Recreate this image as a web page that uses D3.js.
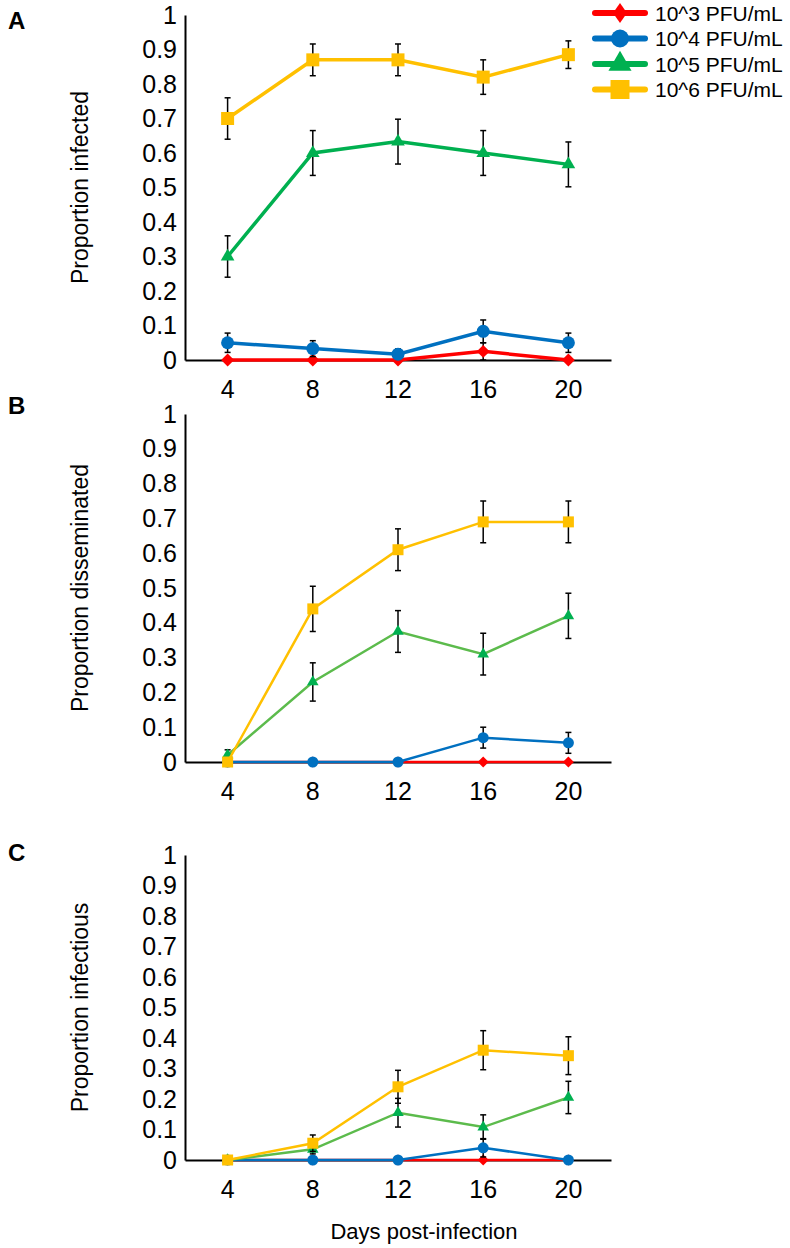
<!DOCTYPE html>
<html>
<head>
<meta charset="utf-8">
<script src="https://cdn.jsdelivr.net/npm/d3@7"></script>
<style>
  body { margin: 0; background: #fff; }
  text { font-family: "Liberation Sans", Arial, sans-serif; fill: #000; }
</style>
</head>
<body>
<div id="chart"></div>
<script>
// categories and ticks
var days   = [4, 8, 12, 16, 20];
var yTicks = [0, 0.1, 0.2, 0.3, 0.4, 0.5, 0.6, 0.7, 0.8, 0.9, 1];
var seriesNames = ["10^3 PFU/mL", "10^4 PFU/mL", "10^5 PFU/mL", "10^6 PFU/mL"];

// A - proportion infected (10^3, 10^4, 10^5, 10^6)
var infected10e3 = [0, 0, 0, 0.025, 0];
var infected10e4 = [0.05, 0.033, 0.017, 0.083, 0.05];
var infected10e5 = [0.30, 0.60, 0.633, 0.60, 0.567];
var infected10e6 = [0.70, 0.87, 0.87, 0.82, 0.885];
var infectedErr10e3 = [0, 0, 0, 0.025, 0];
var infectedErr10e4 = [0.028, 0.023, 0.015, 0.033, 0.028];
var infectedErr10e5 = [0.06, 0.065, 0.065, 0.065, 0.065];
var infectedErr10e6 = [0.06, 0.046, 0.046, 0.05, 0.04];

// B - proportion disseminated
var dissem10e3 = [0, 0, 0, 0, 0];
var dissem10e4 = [0, 0, 0, 0.07, 0.055];
var dissem10e5 = [0.02, 0.23, 0.375, 0.31, 0.42];
var dissem10e6 = [0, 0.44, 0.61, 0.69, 0.69];
var dissemErr10e3 = [0, 0, 0, 0, 0];
var dissemErr10e4 = [0, 0, 0, 0.03, 0.03];
var dissemErr10e5 = [0.015, 0.055, 0.06, 0.06, 0.065];
var dissemErr10e6 = [0, 0.065, 0.06, 0.06, 0.06];

// C - proportion infectious
var infec10e3 = [0, 0, 0, 0, 0];
var infec10e4 = [0, 0, 0, 0.04, 0];
var infec10e5 = [0, 0.035, 0.155, 0.108, 0.205];
var infec10e6 = [0, 0.055, 0.24, 0.36, 0.342];
var infecErr10e3 = [0, 0, 0, 0, 0];
var infecErr10e4 = [0, 0, 0, 0.03, 0];
var infecErr10e5 = [0, 0.015, 0.047, 0.04, 0.053];
var infecErr10e6 = [0, 0.027, 0.054, 0.064, 0.062];

var colors  = ["#FF0000", "#0070C0", "#00B050", "#FFC000"];
var symbols = ["diamond", "circle", "triangle", "square"];

var width = 790, height = 1248;
var left = 185, right = 611;

var panels = [
  {letter: "A", letterY: 20, title: "Proportion infected", top: 15, bottom: 360, big: true,
   vals: [infected10e3, infected10e4, infected10e5, infected10e6],
   errs: [infectedErr10e3, infectedErr10e4, infectedErr10e5, infectedErr10e6],
   greenLine: "#00B050"},
  {letter: "B", letterY: 405, title: "Proportion disseminated", top: 414, bottom: 762, big: false,
   vals: [dissem10e3, dissem10e4, dissem10e5, dissem10e6],
   errs: [dissemErr10e3, dissemErr10e4, dissemErr10e5, dissemErr10e6],
   greenLine: "#5CBB4C"},
  {letter: "C", letterY: 852, title: "Proportion infectious", top: 855, bottom: 1160, big: false,
   vals: [infec10e3, infec10e4, infec10e5, infec10e6],
   errs: [infecErr10e3, infecErr10e4, infecErr10e5, infecErr10e6],
   greenLine: "#5CBB4C"}
];

var svg = d3.select("#chart").append("svg")
      .attr("width", width)
      .attr("height", height);

var x = d3.scaleBand().domain(days).range([left, right]);

function markerPath(kind, s) {
  if (kind == "diamond") return d3.symbol().type(d3.symbolSquare).size(s * s * 0.5)();
  if (kind == "circle") return d3.symbol().type(d3.symbolCircle).size(Math.PI * s * s / 4)();
  if (kind == "triangle") return d3.symbol().type(d3.symbolTriangle).size(0.433 * s * s * 1.1)();
  return d3.symbol().type(d3.symbolSquare).size(s * s)();
}

// legend diamond is taller than wide
function tallDiamond(w, h) {
  return "M0," + (-h / 2) + "L" + (w / 2) + ",0L0," + (h / 2) + "L" + (-w / 2) + ",0Z";
}

panels.forEach(function (p) {
  var y = d3.scaleLinear().domain([0, 1]).range([p.bottom, p.top]);
  var g = svg.append("g");

  // y axis
  var ya = g.append("g")
      .attr("transform", "translate(" + left + ",0)")
      .call(d3.axisLeft(y).tickValues(yTicks).tickSize(0).tickPadding(8)
            .tickFormat(function (d) { return d3.format("")(+d.toFixed(1)); }));
  ya.select(".domain").attr("stroke", "#000").attr("stroke-width", 2);
  ya.selectAll("text").style("font-size", "25px").attr("font-family", null);

  // x axis
  var xa = g.append("g")
      .attr("transform", "translate(0," + p.bottom + ")")
      .call(d3.axisBottom(x).tickSize(0).tickPadding(20));
  xa.select(".domain").attr("stroke", "#000").attr("stroke-width", 2);
  xa.selectAll("text").style("font-size", "25px").attr("font-family", null);

  // panel letter + y title
  g.append("text").attr("x", 8).attr("y", p.letterY + 8.5)
      .style("font-size", "24px").style("font-weight", "bold").text(p.letter);
  g.append("text")
      .attr("transform", "translate(88," + ((p.top + p.bottom) / 2) + ") rotate(-90)")
      .attr("text-anchor", "middle")
      .style("font-size", "23px").text(p.title);

  var ms = p.big ? 13 : 11;
  var lw = p.big ? 3.5 : 2.5;

  p.vals.forEach(function (vals, si) {
    var pts = days.map(function (d, i) { return {d: d, v: vals[i], e: p.errs[si][i]}; });
    var line = d3.line()
        .x(function (q) { return x(q.d) + x.bandwidth() / 2; })
        .y(function (q) { return y(q.v); });
    g.append("path").datum(pts)
        .attr("d", line)
        .attr("fill", "none")
        .attr("stroke", si == 2 ? p.greenLine : colors[si])
        .attr("stroke-width", lw);

    // error bars
    var eb = g.selectAll(".eb" + si).data(pts.filter(function (q) { return q.e > 0; }))
        .enter().append("g")
        .attr("stroke", "#000").attr("stroke-width", 1.5);
    eb.append("line")
        .attr("x1", function (q) { return x(q.d) + x.bandwidth() / 2; })
        .attr("x2", function (q) { return x(q.d) + x.bandwidth() / 2; })
        .attr("y1", function (q) { return y(q.v - q.e); })
        .attr("y2", function (q) { return y(q.v + q.e); });
    [-1, 1].forEach(function (sgn) {
      eb.append("line")
          .attr("x1", function (q) { return x(q.d) + x.bandwidth() / 2 - 3; })
          .attr("x2", function (q) { return x(q.d) + x.bandwidth() / 2 + 3; })
          .attr("y1", function (q) { return y(q.v + sgn * q.e); })
          .attr("y2", function (q) { return y(q.v + sgn * q.e); });
    });

    g.selectAll(".mk" + si).data(pts).enter().append("path")
        .attr("d", markerPath(symbols[si], ms))
        .attr("transform", function (q) {
          return "translate(" + (x(q.d) + x.bandwidth() / 2) + "," + y(q.v) + ")" +
                 (symbols[si] == "diamond" ? " rotate(45)" : "");
        })
        .attr("fill", colors[si]);
  });
});

// legend
var legend = svg.append("g");
var legendSize = [0, 18, 22, 19];
seriesNames.forEach(function (name, i) {
  var ly = 13 + i * 25.5;
  legend.append("line").attr("x1", 595).attr("x2", 645).attr("y1", ly).attr("y2", ly)
      .attr("stroke", colors[i]).attr("stroke-width", 6).attr("stroke-linecap", "round");
  legend.append("path")
      .attr("d", i == 0 ? tallDiamond(14, 20) : markerPath(symbols[i], legendSize[i]))
      .attr("transform", "translate(620," + ly + ")")
      .attr("fill", colors[i]);
  legend.append("text").attr("x", 655).attr("y", ly + 7.5)
      .style("font-size", "21px").text(name);
});

// x title
svg.append("text").attr("x", 424).attr("y", 1239)
    .attr("text-anchor", "middle").style("font-size", "22px").text("Days post-infection");
</script>
</body>
</html>
